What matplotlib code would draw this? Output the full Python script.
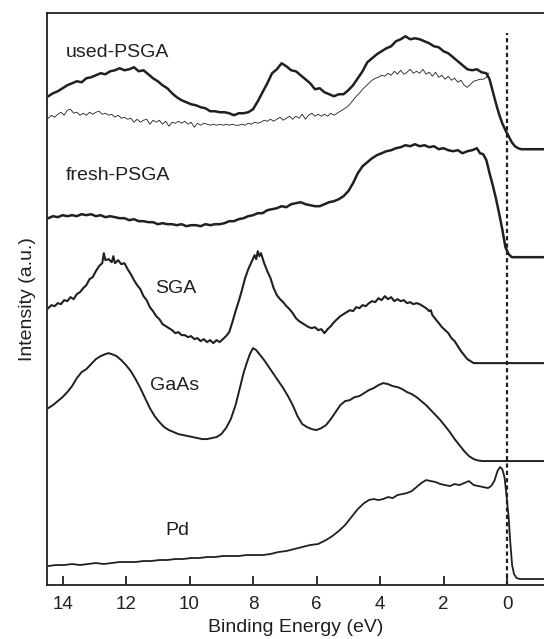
import matplotlib
matplotlib.use("Agg")
from matplotlib import pyplot as plt
import numpy as np

plt.rcParams['font.family'] = ['Liberation Sans', 'DejaVu Sans']

INK = '#231f20'

# spectra: (binding energy eV, intensity a.u. above own baseline)
used_psga = [(14.45, 53), (14.3, 56), (14.15, 58), (14.0, 61), (13.85, 64), (13.7, 66), (13.55, 68),
             (13.4, 67), (13.25, 71), (13.1, 72), (12.95, 74), (12.8, 76), (12.65, 75), (12.5, 78),
             (12.35, 79), (12.2, 81), (12.05, 79), (11.9, 80), (11.75, 82), (11.6, 78), (11.45, 79),
             (11.3, 75), (11.15, 71), (11.0, 68), (10.85, 64), (10.7, 61), (10.55, 56), (10.4, 52),
             (10.25, 49), (10.1, 47), (9.95, 45), (9.8, 44), (9.65, 42), (9.5, 41), (9.35, 38),
             (9.2, 38), (9.05, 37), (8.9, 37), (8.75, 36), (8.6, 34), (8.45, 36), (8.3, 36),
             (8.15, 37), (8.0, 40), (7.85, 48), (7.7, 57), (7.55, 66), (7.4, 76), (7.25, 80),
             (7.1, 86), (6.95, 83), (6.8, 79), (6.65, 78), (6.5, 74), (6.35, 70), (6.2, 66),
             (6.05, 60), (5.9, 61), (5.75, 57), (5.6, 55), (5.45, 53), (5.3, 55), (5.15, 55),
             (5.0, 59), (4.85, 64), (4.7, 71), (4.55, 78), (4.4, 87), (4.25, 91), (4.1, 95),
             (3.95, 98), (3.8, 101), (3.65, 103), (3.5, 108), (3.35, 110), (3.2, 113), (3.05, 110),
             (2.9, 111), (2.75, 110), (2.6, 108), (2.45, 106), (2.3, 103), (2.15, 102), (2.0, 98),
             (1.85, 96), (1.7, 92), (1.55, 88), (1.4, 84), (1.25, 80), (1.1, 79), (0.95, 80),
             (0.8, 77), (0.65, 76), (0.55, 70), (0.45, 58), (0.35, 46), (0.25, 35), (0.15, 26),
             (0.05, 19), (-0.05, 13), (-0.15, 7), (-0.25, 3), (-0.35, 1), (-0.45, 0), (-1.2, 0)]

used_psga_thin = [(14.45, 31), (14.35, 34), (14.25, 32), (14.15, 35), (14.05, 37), (13.95, 34),
                  (13.85, 39), (13.75, 40), (13.65, 36), (13.55, 37), (13.45, 34), (13.35, 36),
                  (13.25, 34), (13.15, 37), (13.05, 35), (12.95, 37), (12.85, 38), (12.75, 35),
                  (12.65, 36), (12.55, 34), (12.45, 35), (12.35, 32), (12.25, 34), (12.15, 31),
                  (12.05, 32), (11.95, 30), (11.85, 31), (11.75, 27), (11.65, 30), (11.55, 27),
                  (11.45, 29), (11.35, 30), (11.25, 25), (11.15, 29), (11.05, 27), (10.95, 29),
                  (10.85, 25), (10.75, 28), (10.65, 23), (10.55, 27), (10.45, 26), (10.35, 28),
                  (10.25, 26), (10.15, 28), (10.05, 25), (9.95, 27), (9.85, 22), (9.75, 26),
                  (9.65, 24), (9.55, 26), (9.45, 25), (9.35, 24), (9.25, 25), (9.15, 24),
                  (9.05, 25), (8.95, 24), (8.85, 25), (8.75, 24), (8.65, 25), (8.55, 24),
                  (8.45, 24), (8.35, 25), (8.25, 24), (8.15, 26), (8.05, 25), (7.95, 27),
                  (7.85, 26), (7.75, 27), (7.65, 29), (7.55, 28), (7.45, 30), (7.35, 28),
                  (7.25, 30), (7.15, 32), (7.05, 29), (6.95, 31), (6.85, 33), (6.75, 30),
                  (6.65, 33), (6.55, 31), (6.45, 35), (6.35, 30), (6.25, 34), (6.15, 36),
                  (6.05, 33), (5.95, 35), (5.85, 33), (5.75, 35), (5.65, 33), (5.55, 36),
                  (5.45, 34), (5.35, 36), (5.25, 38), (5.15, 40), (5.05, 42), (4.95, 45),
                  (4.85, 49), (4.75, 53), (4.65, 56), (4.55, 60), (4.45, 63), (4.35, 66),
                  (4.25, 69), (4.15, 71), (4.05, 72), (3.95, 74), (3.85, 73), (3.75, 76),
                  (3.65, 74), (3.55, 78), (3.45, 75), (3.35, 79), (3.25, 75), (3.15, 77),
                  (3.05, 80), (2.95, 76), (2.85, 78), (2.75, 76), (2.65, 80), (2.55, 75),
                  (2.45, 77), (2.35, 73), (2.25, 77), (2.15, 72), (2.05, 74), (1.95, 70),
                  (1.85, 73), (1.75, 69), (1.65, 71), (1.55, 67), (1.45, 69), (1.35, 64),
                  (1.25, 62), (1.15, 65), (1.05, 68), (0.95, 69), (0.85, 70), (0.75, 70),
                  (0.65, 72), (0.58, 76)]

fresh_psga = [(14.45, 39), (14.3, 41), (14.15, 40), (14.0, 42), (13.85, 41), (13.7, 42), (13.55, 41),
              (13.4, 43), (13.25, 42), (13.1, 43), (12.95, 41), (12.8, 42), (12.65, 40), (12.5, 41),
              (12.35, 40), (12.2, 39), (12.05, 39), (11.9, 37), (11.75, 38), (11.6, 36), (11.45, 36),
              (11.3, 35), (11.15, 35), (11.0, 33), (10.85, 34), (10.7, 33), (10.55, 33), (10.4, 32),
              (10.25, 33), (10.1, 31), (9.95, 32), (9.8, 32), (9.65, 31), (9.5, 33), (9.35, 32),
              (9.2, 33), (9.05, 33), (8.9, 34), (8.75, 36), (8.6, 36), (8.45, 38), (8.3, 39),
              (8.15, 41), (8.0, 42), (7.85, 44), (7.7, 44), (7.55, 47), (7.4, 48), (7.25, 49),
              (7.1, 51), (6.95, 50), (6.8, 53), (6.65, 54), (6.5, 55), (6.35, 53), (6.2, 52),
              (6.05, 51), (5.9, 51), (5.75, 53), (5.6, 55), (5.45, 56), (5.3, 58), (5.15, 61),
              (5.0, 66), (4.85, 74), (4.7, 84), (4.55, 91), (4.4, 95), (4.25, 99), (4.1, 102),
              (3.95, 104), (3.8, 106), (3.65, 107), (3.5, 109), (3.35, 110), (3.2, 112), (3.05, 111),
              (2.9, 113), (2.75, 111), (2.6, 112), (2.45, 110), (2.3, 111), (2.15, 108), (2.0, 109),
              (1.85, 107), (1.7, 106), (1.55, 107), (1.4, 104), (1.25, 106), (1.1, 107), (0.95, 109),
              (0.85, 104), (0.75, 103), (0.65, 97), (0.55, 84), (0.45, 72), (0.35, 59), (0.25, 44),
              (0.15, 28), (0.05, 10), (-0.05, 3), (-0.15, 0), (-1.2, 0)]

sga = [(14.45, 55), (14.35, 58), (14.25, 57), (14.15, 60), (14.05, 59), (13.95, 63), (13.85, 62),
       (13.75, 66), (13.65, 64), (13.55, 69), (13.45, 71), (13.35, 75), (13.25, 78), (13.15, 84),
       (13.05, 86), (12.95, 92), (12.85, 97), (12.75, 100), (12.7, 110), (12.65, 103), (12.55, 104),
       (12.45, 101), (12.4, 107), (12.35, 100), (12.25, 103), (12.15, 99), (12.05, 100), (11.95, 94),
       (11.85, 89), (11.75, 83), (11.65, 78), (11.55, 74), (11.45, 67), (11.35, 63), (11.25, 56),
       (11.15, 52), (11.05, 47), (10.95, 44), (10.85, 39), (10.75, 37), (10.65, 35), (10.55, 33),
       (10.45, 30), (10.35, 31), (10.25, 28), (10.15, 28), (10.05, 26), (9.95, 27), (9.85, 24),
       (9.75, 25), (9.65, 22), (9.55, 24), (9.45, 21), (9.35, 23), (9.25, 20), (9.15, 23),
       (9.05, 21), (8.95, 24), (8.85, 27), (8.75, 31), (8.65, 41), (8.55, 52), (8.45, 62),
       (8.35, 73), (8.25, 85), (8.15, 94), (8.05, 101), (7.95, 108), (7.9, 104), (7.85, 112),
       (7.8, 107), (7.75, 110), (7.65, 100), (7.55, 92), (7.45, 85), (7.35, 75), (7.25, 68),
       (7.15, 64), (7.05, 61), (6.95, 57), (6.85, 54), (6.75, 50), (6.65, 45), (6.55, 42),
       (6.45, 40), (6.35, 38), (6.25, 36), (6.15, 35), (6.05, 36), (5.95, 33), (5.85, 34),
       (5.75, 30), (5.65, 34), (5.55, 37), (5.45, 41), (5.35, 44), (5.25, 47), (5.15, 49),
       (5.05, 51), (4.95, 53), (4.85, 52), (4.75, 56), (4.65, 55), (4.55, 58), (4.45, 57),
       (4.35, 60), (4.25, 62), (4.15, 61), (4.05, 65), (3.95, 63), (3.85, 67), (3.75, 64),
       (3.65, 66), (3.55, 62), (3.45, 64), (3.35, 62), (3.25, 63), (3.15, 60), (3.05, 61),
       (2.95, 59), (2.85, 60), (2.75, 59), (2.65, 57), (2.55, 55), (2.45, 52), (2.4, 53),
       (2.35, 48), (2.25, 44), (2.15, 40), (2.05, 36), (1.95, 33), (1.85, 30), (1.75, 25),
       (1.65, 22), (1.55, 17), (1.45, 12), (1.35, 8), (1.25, 4), (1.15, 2), (1.05, 0), (-1.2, 0)]

gaas = [(14.45, 53), (14.3, 56), (14.15, 60), (14.0, 64), (13.85, 69), (13.7, 75), (13.55, 83),
        (13.4, 89), (13.25, 92), (13.1, 97), (12.95, 102), (12.8, 105), (12.65, 107), (12.55, 108),
        (12.45, 107), (12.3, 105), (12.15, 101), (12.0, 96), (11.85, 90), (11.7, 82), (11.55, 73),
        (11.4, 63), (11.25, 53), (11.1, 45), (10.95, 39), (10.8, 34), (10.65, 31), (10.5, 29),
        (10.35, 27), (10.2, 26), (10.05, 25), (9.9, 24), (9.75, 23), (9.6, 22), (9.45, 22),
        (9.3, 23), (9.15, 24), (9.0, 27), (8.85, 33), (8.7, 42), (8.55, 56), (8.4, 75), (8.3, 88),
        (8.2, 98), (8.1, 107), (8.0, 113), (7.9, 111), (7.8, 107), (7.65, 101), (7.5, 94),
        (7.35, 87), (7.2, 80), (7.05, 73), (6.9, 65), (6.75, 56), (6.6, 45), (6.45, 37), (6.3, 34),
        (6.15, 32), (6.0, 31), (5.85, 33), (5.7, 36), (5.55, 42), (5.4, 49), (5.25, 56), (5.1, 60),
        (4.95, 61), (4.8, 64), (4.65, 65), (4.5, 68), (4.35, 71), (4.2, 73), (4.05, 76), (3.9, 78),
        (3.75, 77), (3.6, 75), (3.45, 74), (3.3, 72), (3.15, 69), (3.0, 67), (2.85, 64), (2.7, 60),
        (2.55, 56), (2.4, 51), (2.25, 46), (2.1, 41), (1.95, 35), (1.8, 29), (1.65, 22), (1.5, 16),
        (1.35, 10), (1.2, 5), (1.05, 2), (0.9, 0.5), (0.75, 0), (-1.2, 0)]

pd_metal = [(14.45, 13), (14.2, 14), (13.95, 14), (13.7, 15), (13.45, 14), (13.2, 15), (12.95, 16),
            (12.7, 15), (12.45, 16), (12.2, 17), (11.95, 17), (11.7, 17), (11.45, 18), (11.2, 18),
            (10.95, 19), (10.7, 19), (10.45, 20), (10.2, 20), (9.95, 21), (9.7, 21), (9.45, 22),
            (9.2, 22), (8.95, 23), (8.7, 23), (8.45, 23), (8.2, 24), (7.95, 24), (7.7, 24),
            (7.45, 25), (7.2, 27), (6.95, 28), (6.7, 30), (6.45, 32), (6.2, 34), (5.95, 35),
            (5.7, 39), (5.5, 43), (5.3, 48), (5.1, 54), (4.9, 62), (4.7, 70), (4.5, 76), (4.35, 79),
            (4.2, 80), (4.05, 79), (3.9, 80), (3.75, 82), (3.6, 81), (3.45, 84), (3.3, 85),
            (3.15, 86), (3.0, 88), (2.85, 92), (2.7, 96), (2.55, 99), (2.4, 98), (2.25, 97),
            (2.1, 95), (1.95, 94), (1.8, 93), (1.65, 95), (1.5, 94), (1.35, 96), (1.2, 98),
            (1.05, 94), (0.9, 93), (0.75, 92), (0.6, 91), (0.5, 93), (0.4, 98), (0.3, 108),
            (0.22, 112), (0.15, 110), (0.08, 102), (0.02, 85), (-0.05, 62), (-0.1, 38),
            (-0.16, 14), (-0.22, 5), (-0.3, 1), (-0.4, 0), (-1.2, 0)]

names = ['used-PSGA', 'fresh-PSGA', 'SGA', 'GaAs', 'Pd']
offsets = [436, 328, 222, 124, 6]


def plot_spectrum(ax, data, offset, lw):
    e, inten = zip(*data)
    ax.plot(np.array(e), np.array(inten) + offset, color=INK, linewidth=lw,
            solid_joinstyle='round')


fig = plt.figure(figsize=(5.44, 6.39), dpi=100)
ax = fig.add_axes([0.0858, 0.0845, 1 - 0.0858, 0.9792 - 0.0845])

plot_spectrum(ax, used_psga, offsets[0], 1.8)
plot_spectrum(ax, used_psga_thin, offsets[0], 0.6)
plot_spectrum(ax, fresh_psga, offsets[1], 1.8)
plot_spectrum(ax, sga, offsets[2], 1.5)
plot_spectrum(ax, gaas, offsets[3], 1.4)
plot_spectrum(ax, pd_metal, offsets[4], 1.3)

# Fermi level marker
ax.plot([0, 0], [0, 552], color=INK, linewidth=1.6, linestyle=(0, (1.9, 1.4)))

ax.text(13.89, 533, names[0], fontsize=14, color=INK, ha='left', va='center')
ax.text(13.89, 410, names[1], fontsize=14, color=INK, ha='left', va='center')
ax.text(10.44, 297, names[2], fontsize=14, color=INK, ha='center', va='center')
ax.text(10.47, 200, names[3], fontsize=14, color=INK, ha='center', va='center')
ax.text(10.39, 55, names[4], fontsize=14, color=INK, ha='center', va='center')

ax.set_xlim(14.5, -1.165)
ax.set_ylim(0, 572)
ax.set_xticks([14, 12, 10, 8, 6, 4, 2, 0])
ax.set_yticks([])
ax.tick_params(axis='x', direction='in', length=6.3, width=1.3, color=INK,
               labelsize=13.5, labelcolor=INK, pad=8)
for side in ['left', 'top', 'bottom']:
    ax.spines[side].set_linewidth(1.3)
    ax.spines[side].set_color(INK)
ax.spines['right'].set_visible(False)
ax.set_xlabel('Binding Energy (eV)', fontsize=14, color=INK, labelpad=4)
ax.set_ylabel('Intensity (a.u.)', fontsize=14, color=INK, labelpad=8)

plt.savefig('out.png', dpi=100)
